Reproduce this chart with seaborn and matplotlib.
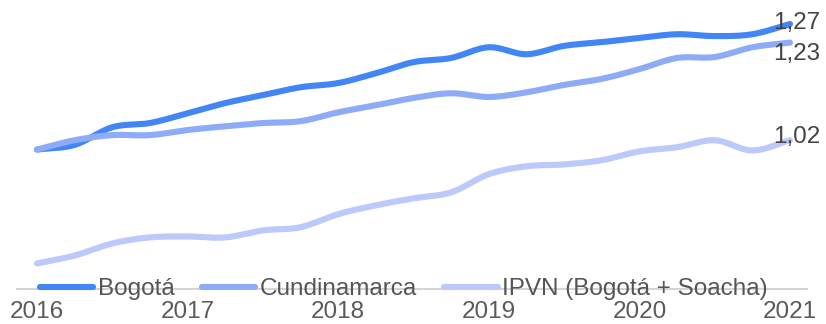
import numpy as np
import pandas as pd
import matplotlib
matplotlib.use("Agg")
import matplotlib.pyplot as plt
import seaborn as sns

# Quarterly index values, 2016Q1 .. 2021Q1
years = [2016, 2017, 2018, 2019, 2020, 2021]
quarter_pos = [2016 + i / 4 for i in range(21)]

bogota = [1.000, 1.010, 1.048, 1.057, 1.078, 1.100, 1.117, 1.134, 1.143, 1.164,
          1.188, 1.197, 1.220, 1.205, 1.223, 1.231, 1.240, 1.248, 1.244, 1.248, 1.27]
cundinamarca = [1.000, 1.020, 1.031, 1.031, 1.042, 1.050, 1.057, 1.061, 1.080, 1.095,
                1.111, 1.121, 1.113, 1.123, 1.139, 1.152, 1.173, 1.197, 1.199, 1.220, 1.23]
ipvn = [0.755, 0.772, 0.798, 0.811, 0.813, 0.811, 0.826, 0.833, 0.861, 0.880,
        0.895, 0.908, 0.947, 0.964, 0.968, 0.977, 0.996, 1.005, 1.020, 0.998, 1.02]

series_names = ["Bogotá", "Cundinamarca", "IPVN (Bogotá + Soacha)"]
series_values = [bogota, cundinamarca, ipvn]
colors = ["#4285F4", "#8EABF7", "#BCC9FA"]


def smooth_curve(x, y, steps=24):
    """Catmull-Rom spline through the points (smooth line rendering)."""
    x = np.asarray(x, float)
    y = np.asarray(y, float)
    px = np.concatenate([[2 * x[0] - x[1]], x, [2 * x[-1] - x[-2]]])
    py = np.concatenate([[2 * y[0] - y[1]], y, [2 * y[-1] - y[-2]]])
    xs, ys = [], []
    t = np.linspace(0, 1, steps, endpoint=False)
    for i in range(1, len(px) - 2):
        p0, p1, p2, p3 = py[i - 1], py[i], py[i + 1], py[i + 2]
        q0, q1, q2, q3 = px[i - 1], px[i], px[i + 1], px[i + 2]
        def cr(a0, a1, a2, a3):
            return 0.5 * ((2 * a1) + (-a0 + a2) * t + (2 * a0 - 5 * a1 + 4 * a2 - a3) * t ** 2
                          + (-a0 + 3 * a1 - 3 * a2 + a3) * t ** 3)
        xs.append(cr(q0, q1, q2, q3))
        ys.append(cr(p0, p1, p2, p3))
    xs.append([x[-1]])
    ys.append([y[-1]])
    return np.concatenate(xs), np.concatenate(ys)


frames = []
for name, vals in zip(series_names, series_values):
    sx, sy = smooth_curve(quarter_pos, vals)
    frames.append(pd.DataFrame({"t": sx, "v": sy, "serie": name}))
df = pd.concat(frames, ignore_index=True)

sns.set_theme(style="white")
plt.rcParams["font.family"] = ["Liberation Sans", "DejaVu Sans"]

W, H = 826, 324
fig = plt.figure(figsize=(W / 100, H / 100), dpi=100)
ax = fig.add_axes([17 / W, (H - 289) / H, 790 / W, 289 / H])

sns.lineplot(data=df, x="t", y="v", hue="serie", palette=colors,
             hue_order=series_names, linewidth=4.4, ax=ax, legend=False,
             sort=False, estimator=None)
for line in ax.get_lines():
    line.set_solid_capstyle("round")

px_per_year = 150.6
ax.set_xlim(2016 - 20 / px_per_year, 2021 + 17 / px_per_year)
ax.set_ylim(0.70, 0.70 + 289 * 0.002151)

for s in ["top", "right", "left"]:
    ax.spines[s].set_visible(False)
ax.spines["bottom"].set_color("#CCCCCC")
ax.spines["bottom"].set_linewidth(1.2)

ax.set_xticks(years)
ax.set_xticklabels([str(y) for y in years])
ax.tick_params(axis="x", length=0, pad=9, labelsize=17.5, labelcolor="#5A5A5A")
ax.set_yticks([])
ax.set_xlabel("")
ax.set_ylabel("")

# End-of-line value labels
label_offsets = [(-12, 1), (-12, -8), (-12, 2)]
for vals, off in zip(series_values, label_offsets):
    ax.annotate(f"{vals[-1]:.2f}".replace(".", ","), xy=(quarter_pos[-1], vals[-1]),
                xytext=off, textcoords="offset points", ha="left", va="center",
                fontsize=17.5, color="#444444")

# Legend along the baseline
handles = [plt.Line2D([], [], color=c, linewidth=4.4, solid_capstyle="round") for c in colors]
leg = ax.legend(handles, series_names, loc="center left",
                bbox_to_anchor=(23 / 790, 0.0), ncol=3, frameon=False,
                fontsize=17.5, handlelength=2.2, handletextpad=0.2,
                columnspacing=1.1, borderpad=0, borderaxespad=0)
for txt in leg.get_texts():
    txt.set_color("#555555")

fig.savefig("out.png", dpi=100)
